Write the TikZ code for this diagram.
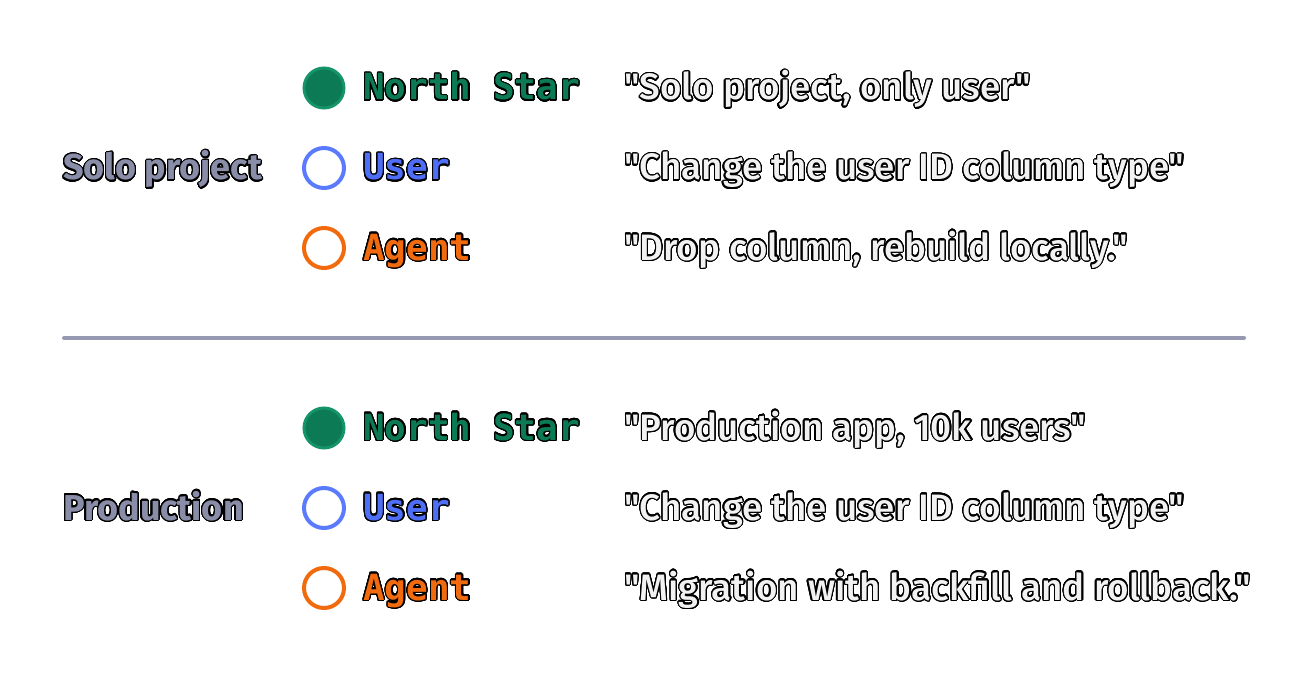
\documentclass[tikz,border=0pt]{standalone}
\usepackage{fontspec}
\usepackage{contour}
\setmainfont{Fira Sans}
\newfontfamily\qfont{Fira Sans Medium}
\newfontfamily\mfont{DejaVu Sans Mono}
\contourlength{1.2pt}
\contournumber{32}
\definecolor{nsgreen}{HTML}{0B7A55}
\definecolor{nsring}{HTML}{149467}
\definecolor{ublue}{HTML}{4F6EF7}
\definecolor{uring}{HTML}{5B7BFF}
\definecolor{aorange}{HTML}{F26A0E}
\definecolor{lgray}{HTML}{8A8DA8}
\definecolor{qfill}{HTML}{F2F2F2}
\definecolor{divider}{HTML}{9799B2}
\tikzset{
  sect/.style={anchor=base west, inner sep=0pt, text=lgray, font=\fontsize{36}{40}\selectfont\bfseries},
  role/.style={anchor=base west, inner sep=0pt, font=\fontsize{36}{40}\selectfont\mfont\bfseries},
  quote/.style={anchor=base west, inner sep=0pt, text=qfill, font=\fontsize{36.8}{40}\selectfont\qfont},
  dotfill/.style={circle, minimum size=40pt, inner sep=0pt, fill=nsgreen, draw=nsring, line width=3pt},
  dotblue/.style={circle, minimum size=40pt, inner sep=0pt, draw=uring, line width=4pt},
  dotorange/.style={circle, minimum size=40pt, inner sep=0pt, draw=aorange, line width=4pt},
}
\begin{document}
\begin{tikzpicture}[x=1pt,y=-1pt]
\useasboundingbox (0,0) rectangle (1308,676);
% top section
\node[sect] (solo) at (63,180) {\contour{black}{Solo project}};
\node[dotfill] (c1) at (324,88) {};
\node[dotblue] (c2) at (324,168) {};
\node[dotorange] (c3) at (324,248) {};
\node[role, text=nsgreen] (r1) at (363,100) {\contour{black}{North Star}};
\node[role, text=ublue] (r2) at (363,180) {\contour{black}{User}};
\node[role, text=aorange] (r3) at (363,260) {\contour{black}{Agent}};
\node[quote] (q1) at (624,100) {\contour{black}{"Solo project, only user"}};
\node[quote] (q2) at (624,180) {\contour{black}{"Change the user ID column type"}};
\node[quote] (q3) at (624,260) {\contour{black}{"Drop column, rebuild locally."}};
% divider
\coordinate (dl) at (64,338);
\coordinate (dr) at (1244,338);
\draw[divider, line width=4pt, line cap=round] (dl) -- (dr);
% bottom section
\node[sect] (prod) at (63,520) {\contour{black}{Production}};
\node[dotfill] (c4) at (324,428) {};
\node[dotblue] (c5) at (324,508) {};
\node[dotorange] (c6) at (324,588) {};
\node[role, text=nsgreen] (r4) at (363,440) {\contour{black}{North Star}};
\node[role, text=ublue] (r5) at (363,520) {\contour{black}{User}};
\node[role, text=aorange] (r6) at (363,600) {\contour{black}{Agent}};
\node[quote] (q4) at (624,440) {\contour{black}{"Production app, 10k users"}};
\node[quote] (q5) at (624,520) {\contour{black}{"Change the user ID column type"}};
\node[quote] (q6) at (624,600) {\contour{black}{"Migration with backfill and rollback."}};
\end{tikzpicture}
\end{document}
